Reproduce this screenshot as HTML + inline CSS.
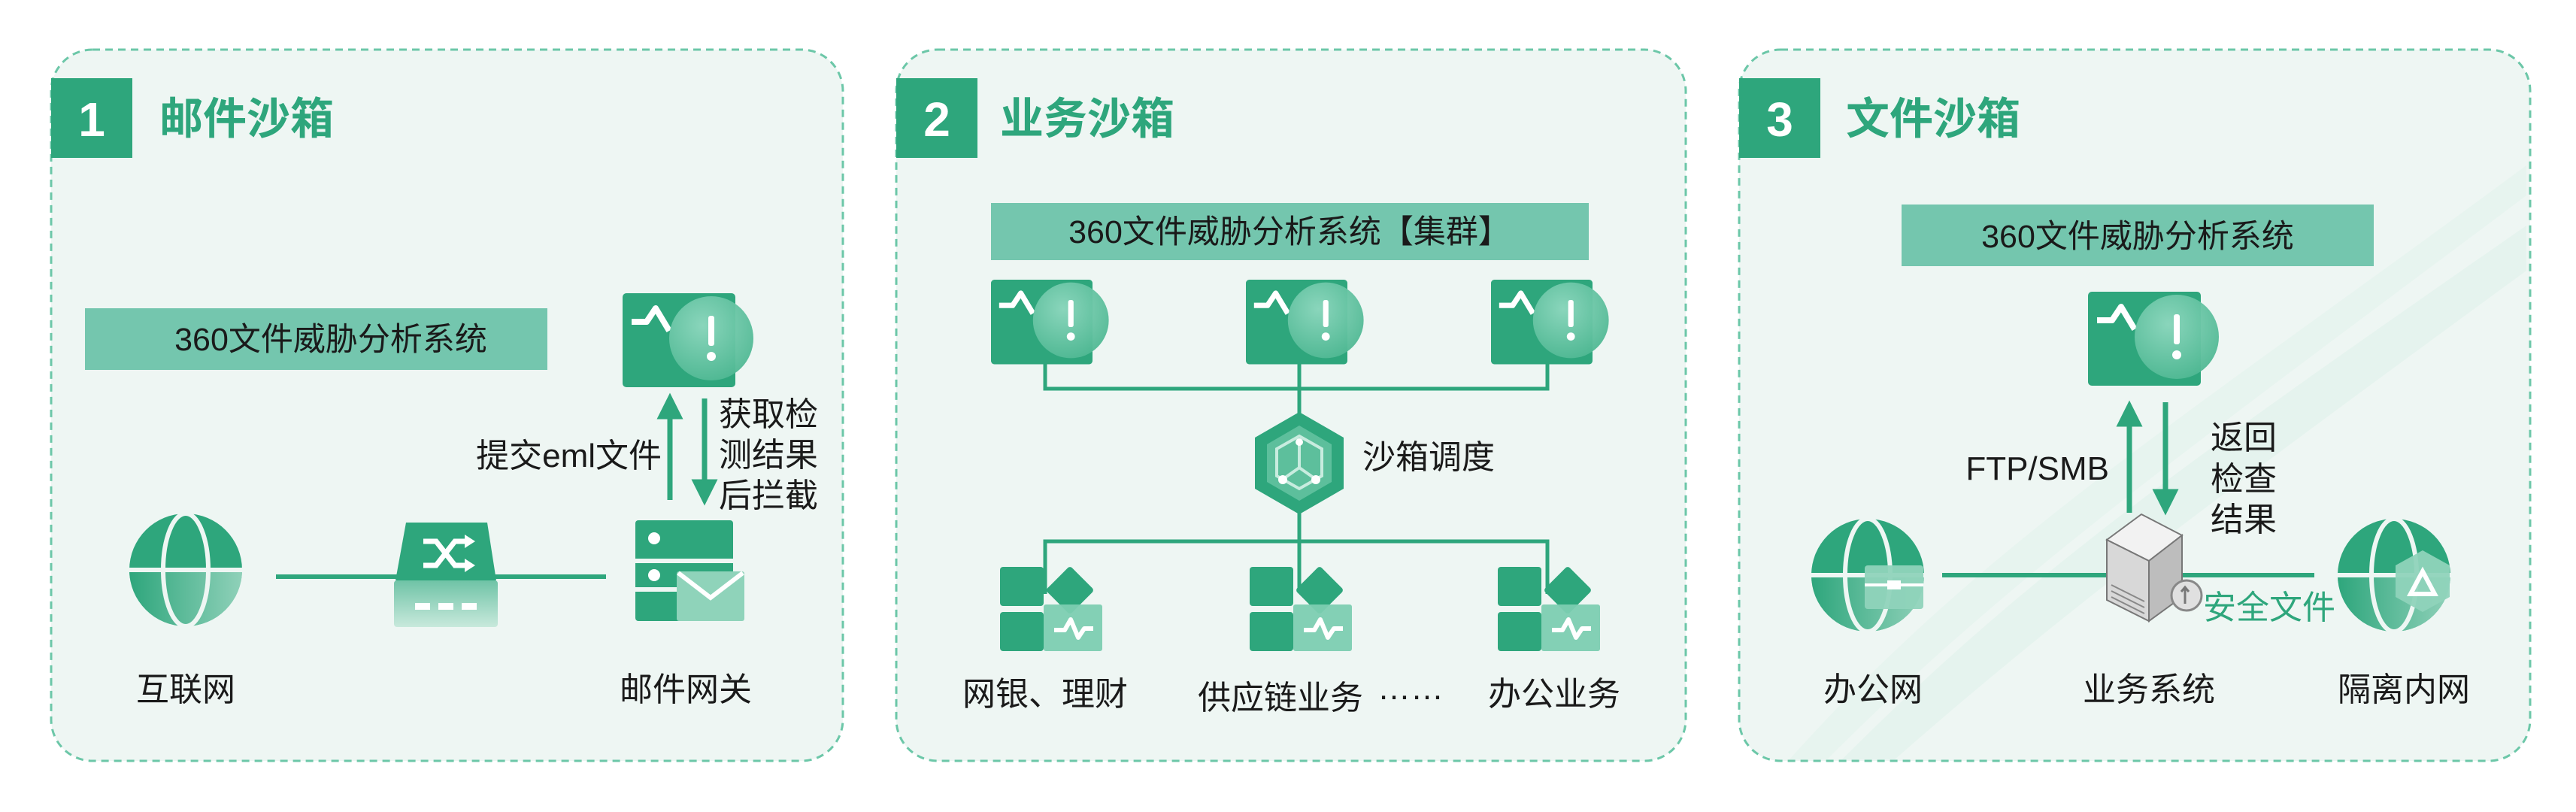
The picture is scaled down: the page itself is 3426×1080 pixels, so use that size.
<!DOCTYPE html>
<html><head><meta charset="utf-8"><style>
html,body{margin:0;padding:0;background:#fff;}
svg{display:block;}
text{font-family:"Liberation Sans","Noto Sans CJK SC",sans-serif;}
</style></head><body>
<svg width="3426" height="1080" viewBox="0 0 3426 1080" xmlns="http://www.w3.org/2000/svg">
<defs>
<radialGradient id="glass" cx="40%" cy="35%" r="70%">
<stop offset="0" stop-color="#8fd8bf"/><stop offset="1" stop-color="#4fb893"/>
</radialGradient>
<linearGradient id="lightbox" x1="0" y1="0" x2="0" y2="1">
<stop offset="0" stop-color="#6fc3a6"/><stop offset="1" stop-color="#c8e9dc"/>
</linearGradient>
<linearGradient id="globeHalf" x1="0" y1="0" x2="1" y2="0">
<stop offset="0" stop-color="#2ea67c"/><stop offset="1" stop-color="#b9e3d3"/>
</linearGradient>
<g id="mon">
<rect x="0" y="0" width="150" height="125" rx="5" fill="#2ea67c"/>
<polyline points="12,38 32,38 44,20 62,50" fill="none" stroke="#fff" stroke-width="8" stroke-linejoin="round"/>
<circle cx="118" cy="60" r="56" fill="url(#glass)" opacity="0.95"/>
<rect x="114" y="30" width="8" height="40" rx="3" fill="#fff"/>
<circle cx="118" cy="84" r="6" fill="#fff"/>
</g>
<g id="app">
<rect x="0" y="0" width="58" height="52" rx="4" fill="#2ea67c"/>
<rect x="0" y="60" width="58" height="52" rx="4" fill="#2ea67c"/>
<rect x="70" y="8" width="46" height="46" rx="4" fill="#2ea67c" transform="rotate(45 93 31)"/>
<rect x="58" y="50" width="78" height="62" rx="3" fill="#7ccdb1" opacity="0.95"/>
<polyline points="72,84 86,84 94,70 104,94 112,82 124,82" fill="none" stroke="#fff" stroke-width="6" stroke-linejoin="round"/>
</g>
<g id="globe">
<circle cx="0" cy="0" r="75" fill="#2ea67c"/>
<path d="M-75,0 A75,75 0 0 0 75,0 Z" fill="url(#globeHalf)" opacity="0.7"/>
<line x1="-75" y1="0" x2="75" y2="0" stroke="#eef6f3" stroke-width="6"/>
<ellipse cx="0" cy="0" rx="30" ry="75" fill="none" stroke="#eef6f3" stroke-width="6"/>
</g>
<marker id="ah" viewBox="0 0 10 10" refX="5" refY="5" markerWidth="5" markerHeight="5" orient="auto-start-reverse">
<path d="M0,0 L10,5 L0,10 Z" fill="#2ea67c"/>
</marker>
</defs>

<g fill="#eef6f3" stroke="#6cc7a8" stroke-width="3" stroke-dasharray="10 7">
<rect x="68" y="66" width="1053" height="946" rx="55"/>
<rect x="1192" y="66" width="1050" height="946" rx="55"/>
<rect x="2313" y="66" width="1052" height="946" rx="55"/>
</g>
<g fill="#cdeadf" opacity="0.8">
<path d="M2450,1010 C2700,760 2900,620 3360,300 L3360,360 C2950,660 2760,800 2520,1010 Z" opacity="0.35"/>
<path d="M2380,1010 C2640,720 2900,560 3360,220 L3360,260 C2920,590 2680,760 2430,1010 Z" opacity="0.25"/>
</g>

<g fill="#2ea67c">
<rect x="68" y="104" width="108" height="106"/>
<rect x="1192" y="104" width="108" height="106"/>
<rect x="2313" y="104" width="108" height="106"/>
</g>
<g fill="#fff" font-weight="bold" font-size="64" text-anchor="middle">
<text x="122" y="181">1</text><text x="1246" y="181">2</text><text x="2367" y="181">3</text>
</g>
<g fill="#2ea67c" font-weight="bold" font-size="58">
<text x="212" y="178">邮件沙箱</text>
<text x="1330" y="178">业务沙箱</text>
<text x="2455" y="178">文件沙箱</text>
</g>

<g fill="#74c6ae">
<rect x="113" y="410" width="615" height="82"/>
<rect x="1318" y="270" width="795" height="76"/>
<rect x="2529" y="272" width="628" height="82"/>
</g>
<g fill="#1a1a1a" font-size="43" text-anchor="middle">
<text x="440" y="466">360文件威胁分析系统</text>
<text x="1715" y="323">360文件威胁分析系统【集群】</text>
<text x="2843" y="329">360文件威胁分析系统</text>
</g>

<!-- Panel 1 -->
<use href="#mon" x="828" y="390"/>
<line x1="891" y1="665" x2="891" y2="540" stroke="#2ea67c" stroke-width="7" marker-end="url(#ah)"/>
<line x1="937" y1="530" x2="937" y2="655" stroke="#2ea67c" stroke-width="7" marker-end="url(#ah)"/>
<g font-size="44" fill="#1a1a1a">
<text x="880" y="621" text-anchor="end">提交eml文件</text>
<text x="956" y="566">获取检</text>
<text x="956" y="620">测结果</text>
<text x="956" y="674">后拦截</text>
<text x="247" y="932" text-anchor="middle">互联网</text>
<text x="912" y="932" text-anchor="middle">邮件网关</text>
</g>
<line x1="367" y1="767" x2="806" y2="767" stroke="#2ea67c" stroke-width="6"/>
<use href="#globe" x="247" y="758"/>
<path d="M540,695 L648,695 L660,772 L526,772 Z" fill="#2ea67c"/>
<rect x="524" y="772" width="138" height="62" rx="4" fill="url(#lightbox)"/>
<g stroke="#fff" stroke-width="7" fill="none">
<path d="M563,720 L580,720 L605,752 L622,752"/>
<path d="M563,752 L580,752 L605,720 L622,720"/>
</g>
<path d="M618,711 L632,720 L618,729 Z M618,743 L632,752 L618,761 Z" fill="#fff"/>
<g fill="#fff"><rect x="552" y="802" width="20" height="9"/><rect x="583" y="802" width="20" height="9"/><rect x="614" y="802" width="20" height="9"/></g>
<rect x="845" y="692" width="130" height="56" rx="4" fill="#2ea67c"/>
<rect x="845" y="742" width="130" height="84" rx="4" fill="#2ea67c"/>
<line x1="845" y1="746" x2="975" y2="746" stroke="#eef6f3" stroke-width="6"/>
<line x1="845" y1="784" x2="900" y2="784" stroke="#eef6f3" stroke-width="6"/>
<circle cx="870" cy="716" r="8" fill="#fff"/><circle cx="870" cy="765" r="8" fill="#fff"/>
<rect x="900" y="760" width="90" height="66" rx="3" fill="#8fd3ba"/>
<polyline points="902,762 945,795 988,762" fill="none" stroke="#fff" stroke-width="6"/>

<!-- Panel 2 -->
<use href="#mon" transform="translate(1318 372) scale(0.9)"/>
<use href="#mon" transform="translate(1657 372) scale(0.9)"/>
<use href="#mon" transform="translate(1983 372) scale(0.9)"/>
<g stroke="#2ea67c" stroke-width="5" fill="none">
<path d="M1390,484 L1390,517 L2058,517 L2058,484"/>
<line x1="1728" y1="484" x2="1728" y2="560"/>
<line x1="1728" y1="660" x2="1728" y2="785"/>
<path d="M1390,790 L1390,720 L2058,720 L2058,790"/>
</g>
<polygon points="1728,548 1787,582 1787,650 1728,684 1669,650 1669,582" fill="#2ea67c"/>
<polygon points="1728,566 1771,591 1771,641 1728,666 1685,641 1685,591" fill="#5dbf9c"/>
<g stroke="#c8ecdf" stroke-width="4" fill="none">
<polygon points="1728,580 1758,597 1758,633 1728,650 1698,633 1698,597"/>
<line x1="1728" y1="590" x2="1728" y2="622"/>
<line x1="1728" y1="622" x2="1708" y2="636"/><line x1="1728" y1="622" x2="1748" y2="636"/>
</g>
<circle cx="1728" cy="588" r="5" fill="#fff"/><circle cx="1706" cy="638" r="6" fill="#fff"/><circle cx="1750" cy="638" r="6" fill="#fff"/>
<text x="1812" y="623" font-size="44" fill="#1a1a1a">沙箱调度</text>
<use href="#app" x="1330" y="754"/>
<use href="#app" x="1662" y="754"/>
<use href="#app" x="1992" y="754"/>
<g font-size="44" fill="#1a1a1a" text-anchor="middle">
<text x="1390" y="938">网银、理财</text>
<text x="1703" y="943">供应链业务</text>
<text x="1876" y="930">……</text>
<text x="2067" y="938">办公业务</text>
</g>

<!-- Panel 3 -->
<use href="#mon" x="2777" y="388"/>
<line x1="2832" y1="682" x2="2832" y2="550" stroke="#2ea67c" stroke-width="7" marker-end="url(#ah)"/>
<line x1="2880" y1="535" x2="2880" y2="668" stroke="#2ea67c" stroke-width="7" marker-end="url(#ah)"/>
<g font-size="44" fill="#1a1a1a">
<text x="2805" y="638" text-anchor="end">FTP/SMB</text>
<text x="2940" y="597">返回</text>
<text x="2940" y="652">检查</text>
<text x="2940" y="706">结果</text>
<text x="2491" y="932" text-anchor="middle">办公网</text>
<text x="2858" y="932" text-anchor="middle">业务系统</text>
<text x="3197" y="932" text-anchor="middle">隔离内网</text>
</g>
<text x="2930" y="823" font-size="44" fill="#2ea67c">安全文件</text>
<line x1="2583" y1="765" x2="3078" y2="765" stroke="#2ea67c" stroke-width="6"/>
<use href="#globe" x="2484" y="765"/>
<rect x="2480" y="752" width="78" height="58" rx="4" fill="#8fd3ba" opacity="0.95"/>
<line x1="2480" y1="778" x2="2558" y2="778" stroke="#fff" stroke-width="4"/>
<rect x="2510" y="772" width="18" height="12" fill="#fff"/>
<use href="#globe" x="3184" y="765"/>
<polygon points="3222,732 3258,752 3258,794 3222,814 3186,794 3186,752" fill="#8fd3ba" opacity="0.95"/>
<polygon points="3222,760 3238,790 3206,790" fill="none" stroke="#fff" stroke-width="6"/>
<polygon points="2802,718 2848,684 2902,712 2858,746" fill="#f2f2f2" stroke="#777" stroke-width="2"/>
<polygon points="2802,718 2858,746 2858,826 2802,798" fill="#d8d8d8" stroke="#777" stroke-width="2"/>
<polygon points="2858,746 2902,712 2902,794 2858,826" fill="#bdbdbd" stroke="#777" stroke-width="2"/>
<g stroke="#888" stroke-width="2"><line x1="2808" y1="778" x2="2852" y2="800"/><line x1="2808" y1="786" x2="2852" y2="808"/><line x1="2808" y1="794" x2="2852" y2="816"/></g>
<circle cx="2908" cy="792" r="20" fill="#e0e0e0" stroke="#888" stroke-width="3"/>
<path d="M2906,803 L2906,781 M2901,787 L2906,781 L2911,787" stroke="#777" stroke-width="3" fill="none"/>
</svg>
</body></html>
